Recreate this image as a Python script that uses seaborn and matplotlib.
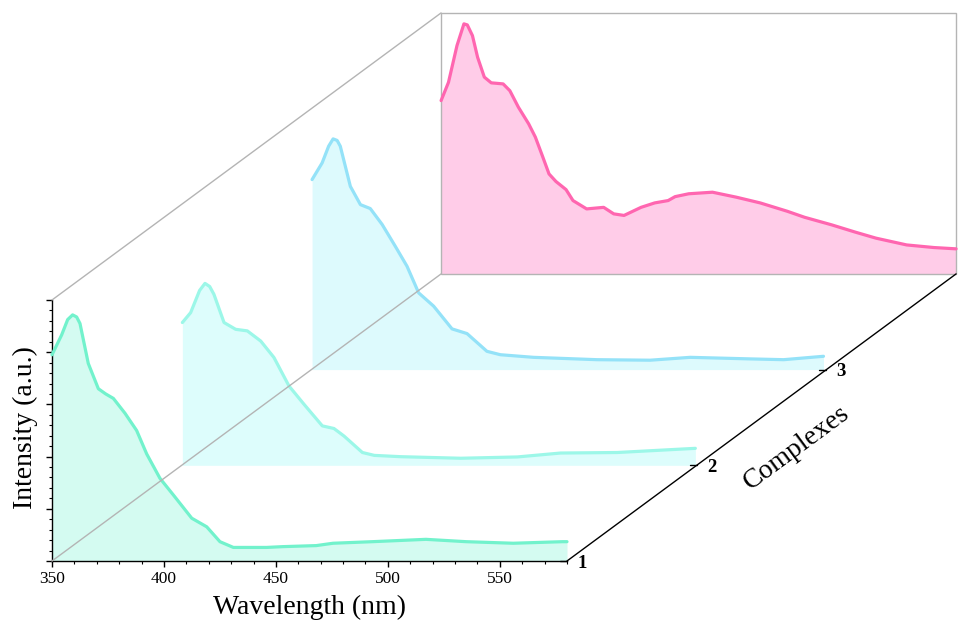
import numpy as np
import matplotlib
matplotlib.use("Agg")
import matplotlib.pyplot as plt
import seaborn as sns
from matplotlib.transforms import ScaledTranslation
from matplotlib.patches import Rectangle
from matplotlib.lines import Line2D
from matplotlib.ticker import MultipleLocator

sns.set_theme(style="ticks")
plt.rcParams["font.family"] = ["Liberation Serif", "DejaVu Serif"]
plt.rcParams["text.color"] = "black"
plt.rcParams["axes.labelcolor"] = "black"
plt.rcParams["xtick.color"] = "black"
plt.rcParams["ytick.color"] = "black"

# ==========================================
# Data
# ==========================================

complex_labels = ["1", "2", "3"]

wl_1 = [350, 354.3, 357, 359.2, 361, 362.5, 366.2, 370.7, 374, 377.4, 382.6,
        387.8, 392.3, 398.2, 404.2, 412.4, 419.1, 425, 431, 445.8, 453, 468,
        475.5, 493, 517, 535, 556, 578, 580]
int_1 = [0.79, 0.866, 0.925, 0.943, 0.935, 0.91, 0.757, 0.66, 0.64, 0.623,
         0.566, 0.50, 0.41, 0.317, 0.253, 0.164, 0.131, 0.074, 0.052, 0.052,
         0.055, 0.059, 0.068, 0.074, 0.083, 0.074, 0.068, 0.074, 0.074]

wl_2 = [350.3, 354, 358, 360.4, 362.5, 364.4, 368.9, 374.1, 379.3, 385.3,
        391.2, 397.9, 404.6, 412.8, 418, 422.5, 430.7, 436, 447.8, 474.6,
        499.9, 519.2, 544.5, 579.4]
int_2 = [0.547, 0.585, 0.67, 0.697, 0.685, 0.655, 0.547, 0.521, 0.515, 0.476,
         0.413, 0.304, 0.234, 0.151, 0.141, 0.112, 0.049, 0.038, 0.033, 0.027,
         0.032, 0.047, 0.049, 0.065]

wl_3 = [350.3, 354.8, 357.7, 359.7, 361.5, 362.9, 367.4, 371.9, 376.3, 381.6,
        387.5, 392.7, 397.9, 404.6, 412.8, 419.5, 428.4, 434.4, 449.2, 477.5,
        501.3, 519.2, 546, 560.9, 578.7]
int_3 = [0.728, 0.792, 0.856, 0.884, 0.878, 0.856, 0.702, 0.632, 0.617,
         0.556, 0.472, 0.396, 0.294, 0.243, 0.156, 0.138, 0.070, 0.057, 0.047,
         0.038, 0.036, 0.047, 0.041, 0.038, 0.051]

wl_4 = [350, 353.3, 357.1, 360.2, 361.7, 364, 366.3, 369.3, 372.4, 377.7,
        380.7, 384.5, 389.1, 392.1, 395.2, 398.2, 401.3, 405.8, 408.9, 415,
        422.6, 427.1, 431.7, 439.3, 445.4, 451.4, 454.5, 460.6, 471.2, 481.8,
        492.5, 504.6, 512.3, 524.4, 535, 544.2, 557.9, 570.1, 580]
int_4 = [0.664, 0.734, 0.875, 0.958, 0.954, 0.913, 0.830, 0.754, 0.732, 0.728,
         0.702, 0.639, 0.575, 0.524, 0.453, 0.383, 0.354, 0.323, 0.281, 0.249,
         0.255, 0.230, 0.224, 0.255, 0.272, 0.281, 0.296, 0.307, 0.313, 0.294,
         0.272, 0.240, 0.217, 0.188, 0.160, 0.137, 0.111, 0.101, 0.096]

series = [
    (wl_1, int_1, "#72F2CC", "#D4FBF1"),
    (wl_2, int_2, "#9CF7E8", "#DDFDFC"),
    (wl_3, int_3, "#94E2F8", "#DDFAFD"),
    (wl_4, int_4, "#FF66B0", "#FFCCE8"),
]

# ==========================================
# Figure / front axes
# ==========================================

W, H = 962, 622
fig = plt.figure(figsize=(W / 100, H / 100), dpi=100)
ax = fig.add_axes([52 / W, (H - 561) / H, (567 - 52) / W, (561 - 300) / H])
ax.set_facecolor("none")
ax.set_xlim(350, 580)
ax.set_ylim(0, 1)

DX, DY = 129.7, 95.7   # depth step in pixels


def shift(k):
    return ax.transData + ScaledTranslation(k * DX / 100, k * DY / 100,
                                            fig.dpi_scale_trans)


def corner(x, y, k):
    p = ax.transData.transform((x, y)) + np.array([k * DX, k * DY])
    return fig.transFigure.inverted().transform(p)


# back to front: pink wall, complex 3, complex 2, complex 1
fill_z = {0: 2, 1: 4, 2: 2, 3: 1}
for k in [3, 2, 1, 0]:
    wl, inten, lc, fc = series[k]
    ax.fill_between(wl, 0, inten, transform=shift(k), color=fc, lw=0,
                    clip_on=False, zorder=fill_z[k])
    sns.lineplot(x=wl, y=inten, ax=ax, sort=False, estimator=None,
                 color=lc, linewidth=2.3, transform=shift(k),
                 clip_on=False, zorder=5, solid_joinstyle="round",
                 solid_capstyle="round")

ax.set_xlim(350, 580)
ax.set_ylim(0, 1)

# back wall frame
ax.add_patch(Rectangle((350, 0), 230, 1, transform=shift(3), fill=False,
                       ec="#B4B4B4", lw=1.0, clip_on=False, zorder=1.5))

# gray diagonal edges
for yy in [0, 1]:
    a = corner(350, yy, 0)
    b = corner(350, yy, 3)
    fig.add_artist(Line2D([a[0], b[0]], [a[1], b[1]], color="#B4B4B4",
                          lw=1.0, zorder=3))

# depth axis (Complexes)
a = corner(580, 0, 0)
b = corner(580, 0, 3)
fig.add_artist(Line2D([a[0], b[0]], [a[1], b[1]], color="black", lw=1.0))
for k, lab in enumerate(complex_labels):
    p = corner(580, 0, k)
    fig.add_artist(Line2D([p[0] - 7 / W, p[0]], [p[1], p[1]],
                          color="black", lw=1.0))
    fig.text(p[0] + 15 / W, p[1] - 2 / H, lab, fontsize=13.5,
             fontweight="bold", ha="center", va="center", color="black")

fig.text(797 / W, 1 - 448 / H, "Complexes", fontsize=20, rotation=36.5,
         ha="center", va="center", rotation_mode="anchor", color="black")

# ==========================================
# Axis styling
# ==========================================

for s in ["top", "right"]:
    ax.spines[s].set_visible(False)
for s in ["left", "bottom"]:
    ax.spines[s].set_color("black")
    ax.spines[s].set_linewidth(1.0)

ax.xaxis.set_major_locator(MultipleLocator(50))
ax.xaxis.set_minor_locator(MultipleLocator(10))
ax.yaxis.set_major_locator(MultipleLocator(0.2))
ax.yaxis.set_minor_locator(MultipleLocator(0.04))
ax.set_xticks([350, 400, 450, 500, 550])
ax.set_yticklabels([])
ax.tick_params(which="major", direction="out", length=4, width=1,
               color="black", labelcolor="black", labelsize=12.5, pad=3)
ax.tick_params(which="minor", direction="out", length=2.5, width=0.8,
               color="black")
ax.tick_params(axis="y", which="both", left=True)
ax.tick_params(axis="x", which="both", bottom=True)

ax.set_xlabel("Wavelength (nm)", fontsize=20, color="black")
ax.set_ylabel("Intensity (a.u.)", fontsize=20, color="black")
ax.xaxis.set_label_coords(0.5, -0.128)
ax.yaxis.set_label_coords(-0.027, 0.51)

fig.savefig("out.png", dpi=100)
